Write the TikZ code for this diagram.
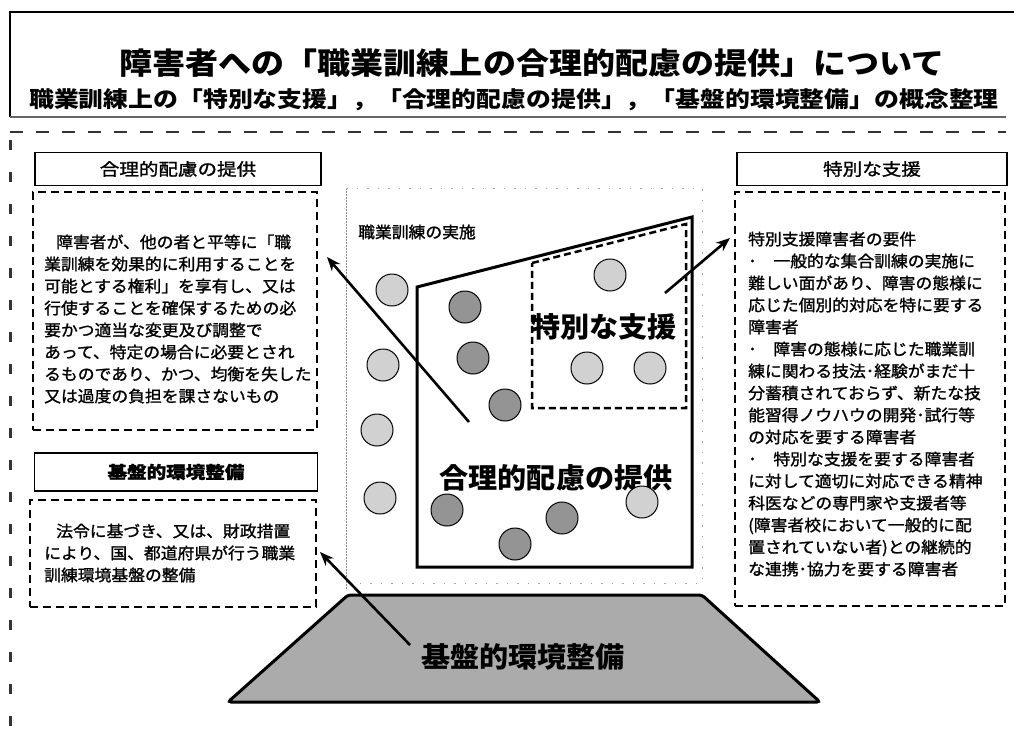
\documentclass[tikz,border=0pt]{standalone}
\usepackage{fontspec}
\setmainfont{Noto Sans CJK JP}
\newfontfamily\jpt[FakeStretch=1.1]{Noto Sans CJK JP}
\newfontfamily\jps[FakeStretch=1.13]{Noto Sans CJK JP}
\newfontfamily\jpb[FakeStretch=1.05, FakeBold=1.3]{Noto Sans CJK JP}
\newfontfamily\jpc[FakeStretch=1.04]{Noto Sans CJK JP}
\newfontfamily\jph[FakeStretch=1.15, FakeBold=1.3]{Noto Sans CJK JP}
\usetikzlibrary{arrows.meta}
\tikzset{
  hdr/.style={draw, line width=1.6pt, inner sep=0pt, font=\jph\fontsize{17}{20}\selectfont},
  dbox/.style={draw, line width=2pt, dash pattern=on 8pt off 5pt, inner sep=0pt},
  body/.style={anchor=west, align=left, inner sep=0pt, font=\jpb\fontsize{16}{22}\selectfont},
  lc/.style={circle, draw, line width=1pt, fill=black!18, minimum size=32pt, inner sep=0pt},
  dc/.style={circle, draw, line width=1pt, fill=black!42, minimum size=32pt, inner sep=0pt},
  arr/.style={line width=2.6pt, -{Stealth[length=14pt,width=11pt]}},
  big/.style={inner sep=0pt, font=\jpc\fontsize{28}{30}\selectfont\bfseries},
}
\begin{document}
\begin{tikzpicture}[x=1pt,y=-1pt]
\useasboundingbox (0,0) rectangle (1014,731);
\fill[white] (0,0) rectangle (1014,731);
% title frame
\draw[line width=1.5pt] (1014,12) -- (10,12) -- (10,117);
\draw[black!60, line width=1.2pt] (10,117) -- (1006,117);
\draw[black!80, line width=2.5pt, dash pattern=on 13pt off 13pt] (10,132) -- (1006,132);
\draw[black!80, line width=3pt, dash pattern=on 10pt off 22pt] (10,140) -- (10,726);
\node[inner sep=0pt, font=\jpt\fontsize{30}{32}\selectfont\bfseries] (title) at (532,63) {障害者への「職業訓練上の合理的配慮の提供」について};
\node[inner sep=0pt, font=\jps\fontsize{22}{24}\selectfont\bfseries] (sub) at (514,100) {職業訓練上の「特別な支援」，「合理的配慮の提供」，「基盤的環境整備」の概念整理};
% left top
\node[hdr, minimum width=286pt, minimum height=33pt] (h1) at (178,169) {合理的配慮の提供};
\node[dbox, minimum width=284pt, minimum height=238pt] (b1) at (175,311) {};
\node[body] (t1) at (44,319) {\hspace*{12pt}障害者が、他の者と平等に「職\\業訓練を効果的に利用することを\\可能とする権利」を享有し、又は\\行使することを確保するための必\\要かつ適当な変更及び調整で\\あって、特定の場合に必要とされ\\るものであり、かつ、均衡を失した\\又は過度の負担を課さないもの};
% left bottom
\node[hdr, minimum width=283pt, minimum height=38pt, font=\jph\fontsize{17}{20}\selectfont\bfseries] (h2) at (176,472) {基盤的環境整備};
\node[dbox, minimum width=286pt, minimum height=107pt] (b2) at (173,553) {};
\node[body] (t2) at (44,553) {\hspace*{12pt}法令に基づき、又は、財政措置\\により、国、都道府県が行う職業\\訓練環境基盤の整備};
% right
\node[hdr, minimum width=270pt, minimum height=33pt] (h3) at (872,169) {特別な支援};
\node[dbox, minimum width=270pt, minimum height=414pt] (b3) at (870,399) {};
\node[body] (t3) at (748,404) {特別支援障害者の要件\\･　一般的な集合訓練の実施に\\難しい面があり、障害の態様に\\応じた個別的対応を特に要する\\障害者\\･　障害の態様に応じた職業訓\\練に関わる技法･経験がまだ十\\分蓄積されておらず、新たな技\\能習得ノウハウの開発･試行等\\の対応を要する障害者\\･　特別な支援を要する障害者\\に対して適切に対応できる精神\\科医などの専門家や支援者等\\(障害者校において一般的に配\\置されていない者)との継続的\\な連携･協力を要する障害者};
% centre area
\draw[black!45, line width=0.6pt, dash pattern=on 2pt off 1pt] (346,188) -- (346,590);
\draw[black!35, line width=0.8pt, dash pattern=on 1.5pt off 9pt] (346,188) -- (702,188) -- (702,583) -- (346,583);
\node[anchor=west, inner sep=0pt, font=\jpb\fontsize{16}{18}\selectfont] (jis) at (358,232) {職業訓練の実施};
\draw[line width=3pt, line join=miter] (417,287) -- (692,217) -- (692,567) -- (417,567) -- cycle;
\draw[line width=2.5pt, dash pattern=on 7pt off 4pt] (532,263) -- (686,224) -- (686,408) -- (532,408) -- cycle;
\node[big] (tok) at (604,327) {特別な支援};
\node[big] (gou) at (556,478) {合理的配慮の提供};
% circles
\node[lc] (c1) at (392,290) {};
\node[lc] (c2) at (383,365) {};
\node[lc] (c3) at (377,430) {};
\node[lc] (c4) at (380,498) {};
\node[dc] (c5) at (465,307) {};
\node[dc] (c6) at (473,358) {};
\node[dc] (c7) at (505,405) {};
\node[dc] (c8) at (447,510) {};
\node[dc] (c9) at (515,544) {};
\node[dc] (c10) at (562,518) {};
\node[lc] (c11) at (642,502) {};
\node[lc] (c12) at (610,275) {};
\node[lc] (c13) at (587,368) {};
\node[lc] (c14) at (650,368) {};
% base trapezoid
\draw[line width=3pt, fill=black!33, rounded corners=3pt] (228,702) -- (348,595) -- (702,595) -- (820,702) -- cycle;
\node[big] (kib) at (523,657) {基盤的環境整備};
% arrows
\coordinate (a1s) at (469,422);
\coordinate (a1e) at (327,257);
\coordinate (a2s) at (665,293);
\coordinate (a2e) at (730,238);
\coordinate (a3s) at (410,645);
\coordinate (a3e) at (320,552);
\draw[arr] (a1s) -- (a1e);
\draw[arr] (a2s) -- (a2e);
\draw[arr] (a3s) -- (a3e);
\end{tikzpicture}
\end{document}
